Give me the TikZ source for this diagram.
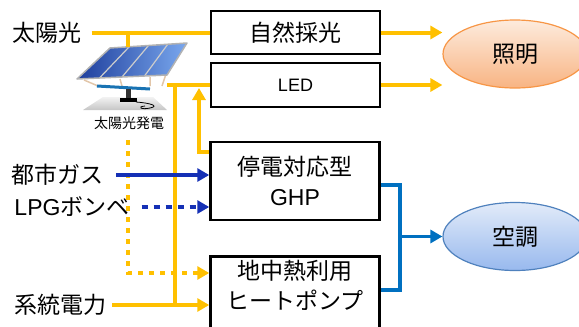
\documentclass[tikz,border=0pt]{standalone}
\usepackage{fontspec}
\setmainfont{Noto Sans CJK JP}
\newfontfamily\latinfont{Liberation Sans}
\usetikzlibrary{arrows.meta, positioning, shapes.geometric, calc}

\definecolor{sunorange}{HTML}{FFC000}
\definecolor{gasblue}{HTML}{1530B5}
\definecolor{acblue}{HTML}{0070C0}
\definecolor{lightedge}{HTML}{F79646}
\definecolor{lighttop}{HTML}{FDEBDD}
\definecolor{lightbottom}{HTML}{F8B483}
\definecolor{acedge}{HTML}{4F81BD}
\definecolor{actop}{HTML}{E2EBF9}
\definecolor{acbottom}{HTML}{98B9EE}
\definecolor{panelblue}{HTML}{1E3E9C}
\definecolor{panelglow}{HTML}{7AA8EE}

\newcommand{\jpbig}{\fontsize{23}{30}\selectfont}
\newcommand{\jpsmall}{\fontsize{14}{16}\selectfont}

\begin{document}
\begin{tikzpicture}[
    x=1pt, y=-1pt,
    every node/.style={font=\jpbig, inner sep=0pt, align=center},
    unitbox/.style={draw, line width=2.5pt, minimum width=169pt},
    demand/.style={ellipse, draw, line width=1.2pt, minimum width=144pt, minimum height=68pt},
    feed/.style={sunorange, line width=4pt},
    gas/.style={gasblue, line width=3.5pt},
    acline/.style={acblue, line width=3.5pt},
    tip/.style={-{Triangle[length=12pt, width=13pt]}}
]
\useasboundingbox (0,0) rectangle (579,327);

% Sources (left column)
\node (sun) at (47,33) {太陽光};
\node (citygas) at (58,175) {都市ガス};
\node (lpg) at (72,207) {{\latinfont LPG}ボンベ};
\node (grid) at (61,305) {系統電力};

% Equipment (middle column)
\node[unitbox, minimum height=43pt] (daylight) at (295.5,32.5) {自然採光};
\node[unitbox, minimum height=44pt, font=\latinfont\fontsize{18}{22}\selectfont] (led) at (295.5,85) {LED};
\node[unitbox, minimum height=78pt] (ghp) at (295,181) {停電対応型\\{\latinfont GHP}};
\node[unitbox, minimum height=95pt, anchor=north] (heatpump) at (295,255) {};
\node[below=5pt of heatpump.north] (heatpumptext) {地中熱利用\\ヒートポンプ};

% Uses (right column)
\node[demand, draw=lightedge, top color=lighttop, bottom color=lightbottom] (lighting) at (515,54) {照明};
\node[demand, draw=acedge, top color=actop, bottom color=acbottom] (aircon) at (515,236.5) {空調};

% Solar panel on its stand
\coordinate (ptl) at (110,48);
\coordinate (ptr) at (187,43);
\coordinate (pbr) at (167,75);
\coordinate (pbl) at (77,79);
\shade[top color=gray!10, bottom color=gray!45] (103,97) -- (153,97) -- (167,110) -- (83,110) -- cycle;
\draw[brown!45, line width=1.5pt] (84,80) -- (98,86) (120,79) -- (122,86) (150,77) -- (150,86) (170,62) -- (162,86);
\draw[acblue!80!gray, line width=3pt] (97,86) -- (150,89);
\fill[black!80] (126,89) rectangle (131,100);
\fill[black] (120,98) rectangle (137,102);
\draw[black, line width=0.8pt] (136,102) .. controls (150,103) and (160,106) .. (150,108) .. controls (142,110) and (136,107) .. (145,106);
\shade[left color=panelblue, right color=panelglow] (ptl) -- (ptr) -- (pbr) -- (pbl) -- cycle;
\foreach \t in {0.25,0.5,0.75}
    \draw[gray!40, line width=1.2pt] ($(ptl)!\t!(ptr)$) -- ($(pbl)!\t!(pbr)$);
\draw[gray!60, line width=1.5pt, line join=round] (ptl) -- (ptr) -- (pbr) -- (pbl) -- cycle;
\node[font=\jpsmall] (pvlabel) at (129,123) {太陽光発電};

% Solar and grid power lines
\coordinate (pvtop) at (128,47);
\coordinate (pvout) at (167,85);
\coordinate (trunk) at (175,85);
\coordinate (ledfeed) at (199,88);
\coordinate (pvbackup) at (128,140);
\draw[feed] ([xshift=10pt]sun.east) -- (sun.east -| daylight.west);
\draw[feed] (sun.east -| pvtop) -- (pvtop);
\draw[feed, tip] (daylight.east) -- (daylight.east -| lighting.west);
\draw[feed, tip] (led.east) -- (led.east -| lighting.west);
\draw[feed] (pvout) -- (led.west);
\draw[feed] (trunk) -- (trunk |- grid);
\draw[feed, tip] ([xshift=5pt]grid.east) -- (grid.east -| heatpump.west);
\draw[feed, tip] ([yshift=-11pt]ghp.north west) -| (ledfeed);
\draw[feed, dash pattern=on 5pt off 6pt, tip] (pvbackup) |- ([yshift=-18pt]heatpump.north west);

% Gas supply
\draw[gas, tip] ([xshift=12pt]citygas.east) -- (citygas.east -| ghp.west);
\draw[gas, dash pattern=on 6pt off 6pt, tip] ([xshift=12pt]lpg.east) -- (lpg.east -| ghp.west);

% Air conditioning
\coordinate (acjoin) at (400,236.5);
\draw[acline] ([yshift=-4pt]ghp.east) -| (acjoin) |- ([yshift=-35pt]heatpump.north east);
\draw[acline, tip] (acjoin) -- (aircon.west);

\end{tikzpicture}
\end{document}
